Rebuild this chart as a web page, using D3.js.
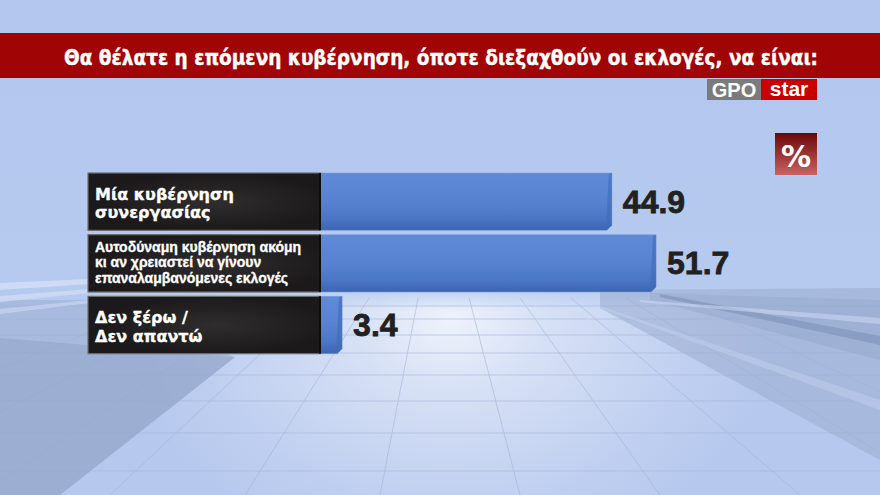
<!DOCTYPE html>
<html><head><meta charset="utf-8">
<script src="https://cdn.jsdelivr.net/npm/d3@7"></script>
<style>html,body{margin:0;padding:0;background:#b4c8ef;overflow:hidden}</style>
</head><body>
<svg id="c" width="880" height="495"></svg>
<script>
const title = "Θα θέλατε η επόμενη κυβέρνηση, όποτε διεξαχθούν οι εκλογές, να είναι:";
const categories = ["Μία κυβέρνηση συνεργασίας", "Αυτοδύναμη κυβέρνηση ακόμη κι αν χρειαστεί να γίνουν επαναλαμβανόμενες εκλογές", "Δεν ξέρω / Δεν απαντώ"];
const labelLines = [["Μία κυβέρνηση", "συνεργασίας"], ["Αυτοδύναμη κυβέρνηση ακόμη", "κι αν χρειαστεί να γίνουν", "επαναλαμβανόμενες εκλογές"], ["Δεν ξέρω /", "Δεν απαντώ"]];
const values = [44.9, 51.7, 3.4];
const valueLabels = ["44.9", "51.7", "3.4"];

const svg = d3.select("#c");
const W = 880, H = 495;
const defs = svg.append("defs");

// background
const bg = defs.append("linearGradient").attr("id","bg").attr("x1",0).attr("y1",0).attr("x2",0).attr("y2",1);
bg.append("stop").attr("offset","0").attr("stop-color","#b3c7ef");
bg.append("stop").attr("offset","0.55").attr("stop-color","#b6caef");
bg.append("stop").attr("offset","1").attr("stop-color","#b9cbee");
svg.append("rect").attr("width",W).attr("height",H).attr("fill","url(#bg)");

// floor
const fl = defs.append("radialGradient").attr("id","floor").attr("gradientUnits","userSpaceOnUse")
  .attr("cx",450).attr("cy",320).attr("r",330).attr("gradientTransform","translate(450 320) scale(1 0.75) translate(-450 -320)");
fl.append("stop").attr("offset","0").attr("stop-color","#eef2fb");
fl.append("stop").attr("offset","0.3").attr("stop-color","#d6e0f5");
fl.append("stop").attr("offset","0.75").attr("stop-color","#bfcff0");
fl.append("stop").attr("offset","1").attr("stop-color","#b6c8ee").attr("stop-opacity",1);
const fmask = defs.append("linearGradient").attr("id","fm").attr("x1",0).attr("y1",0).attr("x2",0).attr("y2",1);
fmask.append("stop").attr("offset","0").attr("stop-color","#fff").attr("stop-opacity",0);
fmask.append("stop").attr("offset","0.12").attr("stop-color","#fff").attr("stop-opacity",1);
fmask.append("stop").attr("offset","1").attr("stop-color","#fff").attr("stop-opacity",1);
defs.append("mask").attr("id","mk").append("rect").attr("x",0).attr("y",285).attr("width",W).attr("height",210).attr("fill","url(#fm)");
svg.append("rect").attr("x",0).attr("y",285).attr("width",W).attr("height",210).attr("fill","url(#floor)").attr("mask","url(#mk)");

// floor grid
const vp = [440, 185];
const grid = svg.append("g").attr("stroke","#a3b4d8").attr("stroke-width",0.8).attr("opacity",0.75);
[-300,-160,-20,110,245,380,520,660,800,950,1100].forEach(bx => {
  const y0 = 298, t = (y0 - vp[1]) / (H - vp[1]);
  const x0 = vp[0] + (bx - vp[0]) * t;
  grid.append("line").attr("x1",x0).attr("y1",y0).attr("x2",bx).attr("y2",H);
});
[306,319,335,353,375,401,433,471].forEach(y => grid.append("line").attr("x1",0).attr("x2",W).attr("y1",y).attr("y2",y));

// side grey streaks
const streak = svg.append("g");
streak.append("path").attr("d","M0,300 L90,300 L235,357 L60,495 L0,495 Z").attr("fill","#9cafd2").attr("opacity",0.55);
streak.append("path").attr("d","M0,338 L235,357 L60,495 L0,495 Z").attr("fill","#90a3c8").attr("opacity",0.5);
streak.append("path").attr("d","M0,283 L90,279 L90,284 L0,290 Z").attr("fill","#d3def6").attr("opacity",0.8);
streak.append("path").attr("d","M0,296 L90,289 L90,293 L0,302 Z").attr("fill","#d3def6").attr("opacity",0.7);
streak.append("path").attr("d","M0,309 L90,300 L90,303 L0,314 Z").attr("fill","#c7d4f0").attr("opacity",0.7);
streak.append("path").attr("d","M600,290 L880,288 L880,460 L600,308 Z").attr("fill","#9aadd0").attr("opacity",0.55);
streak.append("path").attr("d","M650,293 L880,300 L880,360 L650,300 Z").attr("fill","#8ea2c7").attr("opacity",0.35);
streak.append("path").attr("d","M660,294 L880,336 L880,345 L660,297 Z").attr("fill","#7d90b6").attr("opacity",0.6);
streak.append("path").attr("d","M640,300 L880,318 L880,324 L640,302 Z").attr("fill","#c9d6f1").attr("opacity",0.6);
streak.append("path").attr("d","M600,306 L880,400 L880,410 L600,308 Z").attr("fill","#c2d0ee").attr("opacity",0.5);

// title band
svg.append("rect").attr("x",0).attr("y",33).attr("width",W).attr("height",45).attr("fill","#a10404");
svg.append("text").attr("x",64).attr("y",65).attr("fill","#fff").attr("stroke","#fff").attr("stroke-width",0.4)
  .attr("font-family","'Liberation Sans Narrow','DejaVu Sans Condensed',sans-serif").attr("font-weight","bold")
  .attr("font-size",21).attr("textLength",754).attr("lengthAdjust","spacingAndGlyphs").text(title);

// logo
svg.append("rect").attr("x",707).attr("y",79).attr("width",54).attr("height",21).attr("fill","#7b7b7b");
svg.append("rect").attr("x",761).attr("y",79).attr("width",56).attr("height",21).attr("fill","#c80000");
svg.append("text").attr("x",734).attr("y",97).attr("text-anchor","middle").attr("fill","#fff").attr("font-family","'Liberation Sans Narrow',sans-serif").attr("font-weight","bold").attr("font-size",20).text("GPO");
svg.append("text").attr("x",789).attr("y",96).attr("text-anchor","middle").attr("fill","#fff").attr("font-family","'Liberation Sans Narrow',sans-serif").attr("font-weight","bold").attr("font-size",21).text("star");

// percent box
const pg = defs.append("linearGradient").attr("id","pg").attr("x1",0).attr("y1",0).attr("x2",0).attr("y2",1);
pg.append("stop").attr("offset","0").attr("stop-color","#6a0607");
pg.append("stop").attr("offset","1").attr("stop-color","#c96262");
svg.append("rect").attr("x",775).attr("y",133).attr("width",42).attr("height",42).attr("fill","url(#pg)");
svg.append("text").attr("x",796).attr("y",167).attr("text-anchor","middle").attr("fill","#fff").attr("font-family","'DejaVu Sans',sans-serif").attr("font-weight","bold").attr("font-size",30).text("%");

// scales
const x = d3.scaleLinear().domain([0, 100]).range([320, 970]);
const y = d3.scaleBand().domain(categories).range([173, 353.7]).paddingInner(0.07).paddingOuter(0);

// bar gradient
const bgd = defs.append("linearGradient").attr("id","bar").attr("x1",0).attr("y1",0).attr("x2",0).attr("y2",1);
bgd.append("stop").attr("offset","0").attr("stop-color","#5f8ad6");
bgd.append("stop").attr("offset","0.5").attr("stop-color","#5682d0");
bgd.append("stop").attr("offset","0.8").attr("stop-color","#4b76c4");
bgd.append("stop").attr("offset","1").attr("stop-color","#3b64b0");
// label box gradient
const lg = defs.append("radialGradient").attr("id","lab").attr("cx",0.55).attr("cy",0.5).attr("r",0.5);
lg.append("stop").attr("offset","0").attr("stop-color","#2f2d2d");
lg.append("stop").attr("offset","1").attr("stop-color","#1b1919");

const rows = svg.append("g").selectAll("g").data(categories).join("g");

// bars with bottom-right chamfer
rows.append("path").attr("fill","url(#bar)").attr("stroke","#7b9de0").attr("stroke-width",0.6)
  .attr("d",(d,i) => {
    const x0 = x(0), x1 = x(values[i]), y0 = y(d), y1 = y(d) + y.bandwidth(), c = 5;
    return `M${x0},${y0} L${x1},${y0} L${x1},${y1-c} L${x1-c},${y1} L${x0},${y1} Z`;
  });
rows.append("path").attr("fill","#3f6ab8").attr("opacity",0.6)
  .attr("d",(d,i) => {
    const x1 = x(values[i]), y0 = y(d), y1 = y(d) + y.bandwidth(), c = 5;
    return `M${x1-3},${y0+1} L${x1},${y0} L${x1},${y1-c} L${x1-c},${y1} L${x1-c-1},${y1-2} Z`;
  });

// label boxes
rows.append("rect").attr("x",88).attr("y",d => y(d)).attr("width",x(0)-88).attr("height",y.bandwidth())
  .attr("fill","url(#lab)").attr("stroke","#6e6c6c").attr("stroke-width",1.2);
rows.append("line").attr("x1",x(0)).attr("x2",x(0)).attr("y1",d=>y(d)).attr("y2",d=>y(d)+y.bandwidth()).attr("stroke","#0e0d0d").attr("stroke-width",2);

// label texts
rows.each(function(d,i){
  const g = d3.select(this);
  const lines = labelLines[i];
  const big = lines.length === 2;
  const lh = big ? 18.8 : 15.8;
  const base = big ? y(d) + 26.5 : y(d) + 17;
  lines.forEach((l,k) => g.append("text").attr("fill","#fff").attr("stroke","#fff").attr("stroke-width",0.35)
    .attr("font-weight","bold")
    .attr("font-family", big ? "'DejaVu Sans',Verdana,sans-serif" : "'Liberation Sans',Arial,sans-serif")
    .attr("font-size", big ? 16 : 14)
    .attr("x",95).attr("y",base + k*lh).text(l));
});

// value labels
rows.append("text").attr("x",(d,i)=>x(values[i])+11).attr("y",d=>y(d)+y.bandwidth()/2+11)
  .attr("fill","#212121").attr("stroke","#212121").attr("stroke-width",0.8)
  .attr("font-family","'Liberation Sans',Arial,sans-serif").attr("font-weight","bold")
  .attr("font-size",32).text((d,i)=>valueLabels[i]);
</script>
</body></html>
